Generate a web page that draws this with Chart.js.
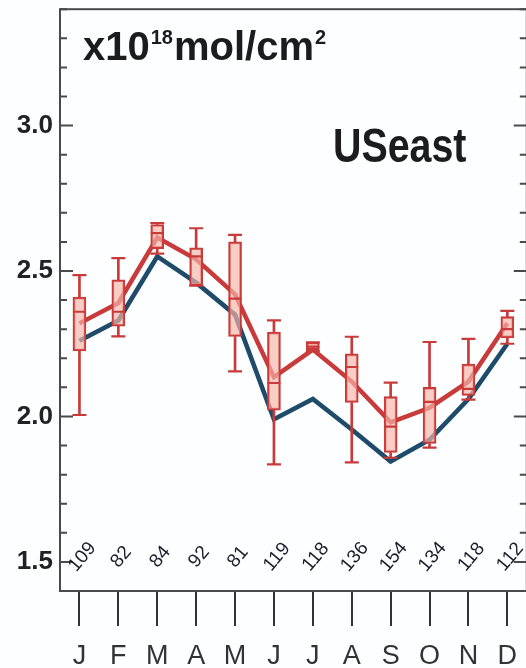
<!DOCTYPE html>
<html><head><meta charset="utf-8">
<script src="https://cdn.jsdelivr.net/npm/chart.js@4.4.1/dist/chart.umd.min.js"></script>
<style>
html,body{margin:0;padding:0;background:#fcfeff;overflow:hidden;}
#wrap{width:526px;height:668px;overflow:hidden;position:relative;}
canvas{display:block;}
</style>
</head><body>
<div id="wrap"><canvas id="c" width="536" height="668" style="width:536px;height:668px"></canvas></div>
<script>
// ---- data ----
const months = ['J','F','M','A','M','J','J','A','S','O','N','D'];
const counts = [109, 82, 84, 92, 81, 119, 118, 136, 154, 134, 118, 112];
const blueLine = [2.26, 2.33, 2.55, 2.46, 2.35, 1.99, 2.06, 1.955, 1.845, 1.92, 2.06, 2.25];
const redLine  = [2.32, 2.39, 2.615, 2.54, 2.42, 2.135, 2.23, 2.12, 1.98, 2.03, 2.12, 2.32];
const boxMin = [2.005, 2.275, 2.56, 2.45, 2.155, 1.835, 2.225, 1.842, 1.858, 1.893, 2.058, 2.25];
const boxQ1  = [2.225, 2.31, 2.577, 2.45, 2.275, 2.022, 2.23, 2.048, 1.876, 1.907, 2.072, 2.27];
const boxMed = [2.36, 2.36, 2.63, 2.55, 2.405, 2.115, 2.24, 2.17, 1.965, 2.05, 2.095, 2.30];
const boxQ3  = [2.41, 2.47, 2.66, 2.58, 2.60, 2.29, 2.255, 2.215, 2.068, 2.10, 2.18, 2.343];
const boxMax = [2.486, 2.544, 2.665, 2.647, 2.624, 2.33, 2.255, 2.274, 2.116, 2.256, 2.267, 2.363];
const yMin = 1.4, yMax = 3.4;
const unitLabel = ['x10', '18', 'mol/cm', '2'];
const regionLabel = 'USeast';
const countLabelValue = 1.517;

// ---- font detection ----
function fontAvailable(name){
  const c = document.createElement('canvas').getContext('2d');
  const t = 'MJFAUSeast0123';
  c.font = '40px monospace'; const a = c.measureText(t).width;
  c.font = `40px '${name}', monospace`; const b = c.measureText(t).width;
  return a !== b;
}
const NARROW = fontAvailable('Liberation Sans Narrow');

const red = '#c93a3a', blue = '#1f4b6a', pink = 'rgba(244,182,170,0.68)';
const ink = '#1c1c1c';

function drawNarrowText(ctx, text, x, y, size, weight){
  ctx.save();
  if (NARROW){
    ctx.font = `${weight} ${size}px 'Liberation Sans Narrow'`;
    ctx.fillText(text, x, y);
  } else {
    ctx.font = `${weight} ${size}px 'Liberation Sans'`;
    ctx.translate(x, y); ctx.scale(0.82, 1);
    ctx.fillText(text, 0, 0);
  }
  ctx.restore();
}

const framePlugin = {
  id: 'frame',
  beforeDatasetsDraw(chart){
    const {ctx, chartArea: a, scales: {y}} = chart;
    ctx.save();
    ctx.strokeStyle = '#4a4a4a';
    ctx.lineWidth = 2;
    ctx.strokeRect(a.left, a.top, a.right - a.left, a.bottom - a.top);
    for (let k = Math.round(yMin*10); k <= Math.round(yMax*10); k++){
      const v = k/10;
      const py = y.getPixelForValue(v);
      const L = (k % 5 === 0) ? 13 : 7;
      ctx.beginPath();
      ctx.moveTo(a.left, py); ctx.lineTo(a.left + L, py);
      ctx.moveTo(a.right, py); ctx.lineTo(a.right - L, py);
      ctx.stroke();
    }
    ctx.restore();
  },
  afterDraw(chart){
    const {ctx, chartArea: a, scales: {x, y}} = chart;
    ctx.save();
    ctx.fillStyle = ink;
    ctx.textBaseline = 'alphabetic';
    // unit label
    let px = a.left + 23, base = a.top + 51;
    ctx.font = "bold 40px 'Liberation Sans'";
    ctx.fillText(unitLabel[0], px, base); px += ctx.measureText(unitLabel[0]).width + 1;
    ctx.font = "bold 20px 'Liberation Sans'";
    ctx.fillText(unitLabel[1], px, base - 16); px += ctx.measureText(unitLabel[1]).width + 1;
    ctx.font = "bold 40px 'Liberation Sans'";
    ctx.fillText(unitLabel[2], px, base); px += ctx.measureText(unitLabel[2]).width + 1;
    ctx.font = "bold 20px 'Liberation Sans'";
    ctx.fillText(unitLabel[3], px, base - 16);
    // region label
    drawNarrowText(ctx, regionLabel, 333, 162, 48, 'bold');
    // counts
    ctx.font = "19px 'Liberation Sans'";
    ctx.textAlign = 'center';
    ctx.textBaseline = 'middle';
    ctx.fillStyle = '#1a1d2b';
    counts.forEach((n, i) => {
      const cx = x.getPixelForValue(i) + 3;
      const cy = y.getPixelForValue(countLabelValue);
      ctx.save();
      ctx.translate(cx, cy);
      ctx.rotate(-50 * Math.PI / 180);
      ctx.fillText(String(n), 0, 0);
      ctx.restore();
    });
    ctx.restore();
  }
};

const capStyle = (data, r, order) => ({
  type: 'line', data, showLine: false, pointStyle: 'line',
  pointRadius: r, pointHoverRadius: r, pointBorderWidth: 2.2,
  pointBorderColor: red, pointBackgroundColor: red, order
});
const whisker = (data, order) => ({
  type: 'bar', data, backgroundColor: red, borderWidth: 0, barThickness: 2, grouped: false, order
});

function noPad(s){ s.paddingLeft = 0; s.paddingRight = 0; s.paddingTop = 0; s.paddingBottom = 0; }

new Chart(document.getElementById('c'), {
  type: 'bar',
  data: {
    labels: months,
    datasets: [
      {type: 'line', data: blueLine, borderColor: blue, borderWidth: 4.6, pointRadius: 0, tension: 0, fill: false, order: 6},
      {type: 'line', data: redLine, borderColor: red, borderWidth: 4.5, pointRadius: 0, tension: 0, fill: false, order: 5},
      whisker(boxMin.map((v, i) => [v, boxQ1[i]]), 4),
      whisker(boxQ3.map((v, i) => [v, boxMax[i]]), 4),
      {type: 'bar', data: boxQ1.map((v, i) => [v, boxQ3[i]]), backgroundColor: pink, borderColor: red, borderWidth: 2, borderSkipped: false, barThickness: 13, grouped: false, order: 3},
      capStyle(boxMed, 6.5, 2),
      capStyle(boxMax, 7, 1),
      capStyle(boxMin, 7, 1)
    ]
  },
  options: {
    responsive: false,
    devicePixelRatio: 1,
    animation: false,
    layout: {padding: {top: 7, right: 0, left: 0, bottom: 0}},
    plugins: {legend: {display: false}, tooltip: {enabled: false}},
    scales: {
      x: {
        type: 'category', offset: true,
        grid: {display: true, drawOnChartArea: false, drawTicks: true, tickLength: 35, color: '#333', lineWidth: 2, offset: false},
        border: {display: false},
        ticks: {color: '#333', padding: 14, maxRotation: 0, autoSkip: false,
          font: NARROW ? {family: "'Liberation Sans Narrow'", size: 30} : {family: "'Liberation Sans'", size: 27}},
        afterFit(s){ s.height = 77; noPad(s); }
      },
      y: {
        min: yMin, max: yMax,
        grid: {display: false, drawTicks: false, tickLength: 0},
        border: {display: false},
        ticks: {stepSize: 0.1, autoSkip: false, padding: 7, color: '#222',
          font: {family: "'Liberation Sans'", weight: 'bold', size: 26},
          callback: v => (Math.abs(v*2 - Math.round(v*2)) < 1e-6) ? Number(v).toFixed(1) : ''},
        afterFit(s){ s.width = 60; noPad(s); }
      }
    }
  },
  plugins: [framePlugin]
});
</script>
</body></html>
